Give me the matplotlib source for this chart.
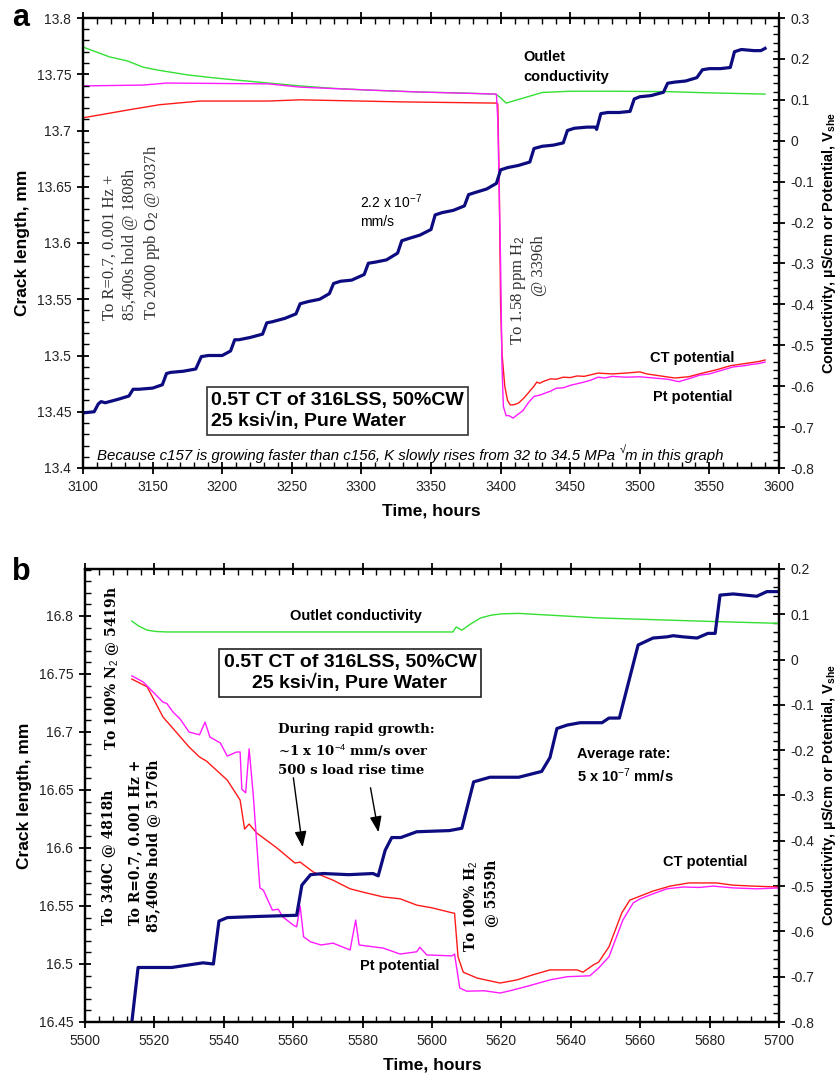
import matplotlib
matplotlib.use("Agg")
import matplotlib.pyplot as plt
from matplotlib.ticker import MultipleLocator

plt.rcParams['font.family'] = ['Liberation Sans', 'DejaVu Sans']
plt.rcParams['mathtext.fontset'] = 'custom'
plt.rcParams['mathtext.rm'] = 'Liberation Sans'
plt.rcParams['mathtext.it'] = 'Liberation Sans:italic'
plt.rcParams['mathtext.bf'] = 'Liberation Sans:bold'

# ---- panel a: 3100-3600 h ----
crack_a_t = [3100, 3108, 3111, 3113, 3116, 3125, 3133, 3136, 3140, 3150, 3157, 3160,
             3163, 3172, 3181, 3185, 3190, 3200, 3206, 3209, 3212, 3220, 3229, 3232,
             3236, 3245, 3253, 3256, 3262, 3270, 3277, 3280, 3285, 3293, 3302, 3305,
             3310, 3318, 3326, 3329, 3334, 3342, 3350, 3353, 3358, 3366, 3374, 3377,
             3382, 3390, 3397, 3400, 3405, 3413, 3421, 3424, 3430, 3438, 3445, 3448,
             3453, 3462, 3468, 3469, 3472, 3477, 3485, 3493, 3496, 3500, 3508, 3517,
             3520, 3525, 3533, 3541, 3545, 3550, 3558, 3565, 3568, 3573, 3582, 3587, 3590]
crack_a = [13.449, 13.450, 13.457, 13.459, 13.458, 13.461, 13.464, 13.470, 13.470, 13.471,
           13.474, 13.484, 13.485, 13.486, 13.488, 13.499, 13.500, 13.500, 13.504, 13.514,
           13.514, 13.516, 13.519, 13.529, 13.530, 13.533, 13.537, 13.546, 13.548, 13.550,
           13.555, 13.564, 13.566, 13.567, 13.572, 13.582, 13.583, 13.585, 13.591, 13.602,
           13.604, 13.607, 13.612, 13.625, 13.627, 13.629, 13.633, 13.643, 13.645, 13.648,
           13.653, 13.665, 13.667, 13.669, 13.672, 13.684, 13.686, 13.687, 13.689, 13.700,
           13.702, 13.703, 13.703, 13.701, 13.715, 13.716, 13.716, 13.717, 13.728, 13.730,
           13.731, 13.734, 13.742, 13.743, 13.744, 13.747, 13.754, 13.755, 13.755, 13.756,
           13.770, 13.772, 13.771, 13.771, 13.773]

cond_a_t = [3100, 3119, 3132, 3143, 3153, 3175, 3193, 3208, 3230, 3256, 3280, 3304, 3342,
            3370, 3396, 3399, 3404, 3412, 3420, 3430, 3450, 3480, 3520, 3550, 3590]
cond_a = [0.229, 0.205, 0.195, 0.180, 0.173, 0.161, 0.154, 0.149, 0.142, 0.134, 0.128,
          0.124, 0.119, 0.117, 0.114, 0.108, 0.092, 0.100, 0.108, 0.118, 0.121, 0.121,
          0.120, 0.117, 0.114]

pt_a_t = [3100, 3143, 3160, 3233, 3256, 3304, 3342, 3397, 3398, 3400, 3401, 3402, 3404,
          3406, 3409, 3412, 3416, 3420, 3424, 3428, 3432, 3436, 3440, 3445, 3450, 3455,
          3460, 3465, 3470, 3475, 3480, 3490, 3500, 3510, 3520, 3528, 3535, 3543, 3550,
          3560, 3567, 3575, 3580, 3585, 3590]
pt_a = [0.134, 0.136, 0.141, 0.139, 0.131, 0.124, 0.119, 0.114, 0.050, -0.300, -0.550,
        -0.650, -0.672, -0.672, -0.678, -0.670, -0.660, -0.640, -0.625, -0.622, -0.617,
        -0.612, -0.605, -0.604, -0.598, -0.594, -0.590, -0.585, -0.578, -0.580, -0.576,
        -0.578, -0.577, -0.580, -0.583, -0.589, -0.582, -0.573, -0.570, -0.560, -0.553,
        -0.550, -0.547, -0.545, -0.541]

ct_a_t = [3100, 3132, 3155, 3184, 3233, 3256, 3328, 3397, 3398, 3399, 3400, 3401, 3403,
          3405, 3407, 3410, 3413, 3417, 3421, 3424, 3426, 3428, 3431, 3436, 3440, 3445,
          3450, 3455, 3460, 3465, 3470, 3480, 3490, 3500, 3505, 3515, 3525, 3535, 3545,
          3555, 3565, 3575, 3585, 3590]
ct_a = [0.056, 0.075, 0.088, 0.097, 0.097, 0.100, 0.095, 0.092, 0.090, -0.100, -0.400,
        -0.520, -0.600, -0.635, -0.646, -0.645, -0.641, -0.628, -0.612, -0.600, -0.590,
        -0.593, -0.588, -0.582, -0.583, -0.578, -0.579, -0.575, -0.576, -0.572, -0.568,
        -0.570, -0.568, -0.565, -0.570, -0.575, -0.580, -0.577, -0.568, -0.560, -0.550,
        -0.545, -0.540, -0.536]

# ---- panel b: 5500-5700 h ----
crack_b_t = [5513.5, 5515.3, 5525, 5534, 5537, 5538.6, 5541, 5550, 5561, 5562.5, 5565,
             5568.7, 5576, 5583, 5584.5, 5586.5, 5588.4, 5591, 5595.6, 5605, 5608.6, 5612,
             5616.7, 5625, 5631.6, 5634, 5636, 5639, 5642.7, 5649, 5651, 5654, 5657,
             5659.4, 5663.7, 5667.7, 5669.5, 5672.4, 5676.4, 5679.5, 5681.6, 5683, 5686.8,
             5693.6, 5696.5, 5700]
crack_b = [16.45, 16.497, 16.497, 16.501, 16.500, 16.537, 16.540, 16.541, 16.542, 16.568,
           16.577, 16.578, 16.577, 16.578, 16.576, 16.598, 16.609, 16.609, 16.614, 16.615,
           16.617, 16.657, 16.661, 16.661, 16.666, 16.678, 16.703, 16.706, 16.708, 16.708,
           16.712, 16.712, 16.747, 16.775, 16.781, 16.782, 16.783, 16.782, 16.781, 16.785,
           16.785, 16.818, 16.819, 16.817, 16.821, 16.821]

cond_b_t = [5513.5, 5515.5, 5517.9, 5520.5, 5523.6, 5560, 5606, 5607, 5608.6, 5611, 5614,
            5617, 5620, 5625, 5648, 5677, 5700]
cond_b = [0.085, 0.074, 0.065, 0.062, 0.061, 0.061, 0.061, 0.072, 0.065, 0.078, 0.092,
          0.098, 0.101, 0.102, 0.092, 0.085, 0.080]

pt_b_t = [5513.5, 5516.7, 5522.5, 5523.6, 5525.4, 5527.4, 5530, 5533, 5534.6, 5536, 5539,
          5541, 5543.7, 5544.7, 5545.2, 5546.3, 5547.3, 5548.5, 5550.4, 5551.4, 5554,
          5555.7, 5557, 5560, 5561, 5562, 5563, 5565, 5568, 5571.5, 5576.4, 5578, 5579,
          5586, 5590.8, 5595.6, 5596.5, 5598.5, 5605.8, 5606.5, 5608, 5610, 5615, 5619.6,
          5622.5, 5628, 5634, 5639, 5645.5, 5648, 5651, 5655, 5658, 5660, 5663.7, 5667.7,
          5672.4, 5677, 5681, 5686.8, 5693.6, 5700]
pt_b = [-0.036, -0.049, -0.094, -0.097, -0.116, -0.131, -0.160, -0.166, -0.138, -0.171,
        -0.184, -0.213, -0.204, -0.204, -0.286, -0.294, -0.197, -0.300, -0.504, -0.509,
        -0.553, -0.551, -0.568, -0.586, -0.590, -0.544, -0.612, -0.623, -0.630, -0.626,
        -0.641, -0.575, -0.630, -0.637, -0.650, -0.645, -0.635, -0.652, -0.654, -0.650,
        -0.725, -0.732, -0.731, -0.736, -0.731, -0.720, -0.707, -0.700, -0.698, -0.681,
        -0.656, -0.575, -0.537, -0.528, -0.517, -0.506, -0.502, -0.503, -0.500, -0.504,
        -0.506, -0.504]

ct_b_t = [5513.5, 5517.9, 5522.5, 5526.5, 5530, 5533, 5535, 5541, 5544.7, 5546, 5547.3,
          5549.5, 5555, 5560.5, 5562, 5565.8, 5571.5, 5576.4, 5581, 5586, 5590.8, 5595.6,
          5600, 5605.8, 5606.5, 5607.5, 5609, 5613, 5619.6, 5624.5, 5629, 5634, 5641.8,
          5643.5, 5646.5, 5648, 5651, 5654.7, 5657, 5660, 5663.7, 5668.6, 5674, 5682,
          5686.8, 5692.5, 5700]
ct_b = [-0.043, -0.060, -0.127, -0.162, -0.193, -0.215, -0.224, -0.266, -0.310, -0.374,
        -0.363, -0.383, -0.414, -0.449, -0.447, -0.469, -0.487, -0.506, -0.515, -0.524,
        -0.528, -0.542, -0.548, -0.559, -0.560, -0.656, -0.690, -0.703, -0.714, -0.707,
        -0.696, -0.685, -0.685, -0.690, -0.674, -0.668, -0.634, -0.559, -0.531, -0.522,
        -0.511, -0.500, -0.493, -0.493, -0.498, -0.500, -0.502]

NAVY = '#0c0c80'
RED = '#ff1a1a'
MAGENTA = '#ff1aff'
GREEN = '#33e033'
TXT = '#222222'
W, H = 839, 1076

fig = plt.figure(figsize=(W / 100, H / 100), dpi=100)


def fpos(x, y):
    # pixel position -> figure fraction
    return x / W, 1 - y / H


def txt(x, y, s, **kw):
    return fig.text(*fpos(x, y), s, **kw)


def setup(ax, ax2, xlim, ylim, y2lim, xstep, ystep, y2step):
    ax.set_xlim(*xlim)
    ax.set_ylim(*ylim)
    ax2.set_ylim(*y2lim)
    ax.xaxis.set_major_locator(MultipleLocator(xstep[0]))
    ax.xaxis.set_minor_locator(MultipleLocator(xstep[1]))
    ax.yaxis.set_major_locator(MultipleLocator(ystep[0]))
    ax.yaxis.set_minor_locator(MultipleLocator(ystep[1]))
    ax2.yaxis.set_major_locator(MultipleLocator(y2step[0]))
    ax2.yaxis.set_minor_locator(MultipleLocator(y2step[1]))
    for a in (ax, ax2):
        a.tick_params(which='major', direction='inout', length=9, width=1.3,
                      labelsize=10, labelcolor=TXT, pad=4)
        a.tick_params(which='minor', direction='in', length=4.5, width=1.0)
        for sp in a.spines.values():
            sp.set_linewidth(1.6)
    ax.tick_params(which='both', top=True, right=False)
    # crack length drawn above the potentials
    ax.set_zorder(ax2.get_zorder() + 1)
    ax.patch.set_visible(False)
    ax.yaxis.set_major_formatter(plt.FuncFormatter(lambda v, p: f'{v:g}'))
    ax2.yaxis.set_major_formatter(plt.FuncFormatter(lambda v, p: f'{v:g}'))
    ax.set_xlabel('Time, hours', fontsize=12.5, fontweight='bold', labelpad=7)
    ax.set_ylabel('Crack length, mm', fontsize=12.5, fontweight='bold', labelpad=5)
    ax2.set_ylabel(r'Conductivity, µS/cm or Potential, V$_\mathbf{she}$',
                   fontsize=10.5, fontweight='bold', labelpad=4)


# ---------------- panel a ----------------
ax = fig.add_axes([83 / W, 1 - 468 / H, 696 / W, 450 / H])
ax2 = ax.twinx()
setup(ax, ax2, (3100, 3600), (13.4, 13.8), (-0.8, 0.3), (50, 10), (0.05, 0.01), (0.1, 0.02))
ax2.plot(cond_a_t, cond_a, color=GREEN, lw=1.0)
ax2.plot(ct_a_t, ct_a, color=RED, lw=1.0)
ax2.plot(pt_a_t, pt_a, color=MAGENTA, lw=1.0)
ax.plot(crack_a_t, crack_a, color=NAVY, lw=2.3, solid_joinstyle='round')

txt(12, 18, 'a', fontsize=22, fontweight='bold', va='center')
txt(523, 67, 'Outlet\nconductivity', fontsize=10.5, fontweight='bold', va='center',
    linespacing=1.5)
txt(360, 211, '2.2 x 10$^{-7}$\nmm/s', fontsize=10, va='center', linespacing=1.4)
txt(132, 320, 'To R=0.7, 0.001 Hz +\n85,400s hold @ 1808h\nTo 2000 ppb O$_2$ @ 3037h',
    family='Liberation Serif', fontsize=12, color='#333333', rotation=90,
    ha='center', va='bottom', ma='left', linespacing=1.3)
txt(528, 235, 'To 1.58 ppm H$_2$\n@ 3396h', family='Liberation Serif', fontsize=12,
    color='#333333', rotation=90, ha='center', va='top', ma='right', linespacing=1.25)
txt(211, 411, '0.5T CT of 316LSS, 50%CW\n25 ksi\u221ain, Pure Water', fontsize=14,
    fontweight='bold', va='center', ma='left', linespacing=1.25,
    bbox=dict(boxstyle='square,pad=0.22', fc='white', ec='#333333', lw=1.2))

# note with a small raised root sign in the unit
note = txt(97, 460, 'Because c157 is growing faster than c156, K slowly rises from 32 to 34.5 MPa ',
           fontsize=10.8, style='italic', va='baseline')
root = fig.add_artist(matplotlib.text.Annotation(
    '\u221a', xy=(1, 0.55), xycoords=note, ha='left', va='bottom', fontsize=8))
fig.add_artist(matplotlib.text.Annotation(
    'm in this graph', xy=(1, 0), xycoords=(root, note), ha='left', va='bottom',
    fontsize=10.8, style='italic'))
txt(650, 358, 'CT potential', fontsize=10.5, fontweight='bold', va='center')
txt(653, 397, 'Pt potential', fontsize=10.5, fontweight='bold', va='center')

# ---------------- panel b ----------------
bx = fig.add_axes([85 / W, 1 - 1022 / H, 694 / W, 453 / H])
bx2 = bx.twinx()
setup(bx, bx2, (5500, 5700), (16.45, 16.8405), (-0.8, 0.2), (20, 4), (0.05, 0.01), (0.1, 0.02))
bx2.plot(cond_b_t, cond_b, color=GREEN, lw=1.0)
bx2.plot(ct_b_t, ct_b, color=RED, lw=1.0)
bx2.plot(pt_b_t, pt_b, color=MAGENTA, lw=1.0)
bx.plot(crack_b_t, crack_b, color=NAVY, lw=2.3, solid_joinstyle='round')

txt(12, 572, 'b', fontsize=22, fontweight='bold', va='center')
txt(290, 616, 'Outlet conductivity', fontsize=10.5, fontweight='bold', va='center')
txt(350, 673, '0.5T CT of 316LSS, 50%CW\n25 ksi\u221ain, Pure Water', fontsize=14,
    fontweight='bold', ha='center', va='center', ma='center', linespacing=1.25,
    bbox=dict(boxstyle='square,pad=0.22', fc='white', ec='#222222', lw=1.2))

serif_b = dict(family='DejaVu Serif', fontweight='bold', fontsize=10, rotation=90)
txt(112, 750, 'To 100% N$_2$ @ 5419h', ha='center', va='bottom', **serif_b)
txt(108, 925, 'To 340C @ 4818h', ha='center', va='bottom', **serif_b)
txt(144, 760, 'To R=0.7, 0.001 Hz +\n85,400s hold @ 5176h', ha='center', va='top',
    ma='right', linespacing=1.35, **serif_b)
txt(480, 860, 'To 100% H$_2$\n@ 5559h', ha='center', va='top', ma='right',
    linespacing=1.35, **serif_b)
txt(278, 750, 'During rapid growth:\n~1 x 10$^{-4}$ mm/s over\n500 s load rise time',
    family='DejaVu Serif', fontweight='bold', fontsize=9.5, va='center', linespacing=1.55)
txt(577, 766, 'Average rate:\n5 x 10$^{-7}$ mm/s', fontsize=10.5, fontweight='bold',
    va='center', linespacing=1.35)
txt(663, 862, 'CT potential', fontsize=10.5, fontweight='bold', va='center')
txt(360, 966, 'Pt potential', fontsize=10.5, fontweight='bold', va='center')

for (x0, y0), (x1, y1) in [((293, 775), (303, 850)), ((370, 785), (379, 835))]:
    fig.add_artist(matplotlib.patches.FancyArrowPatch(
        fpos(x0, y0), fpos(x1, y1), transform=fig.transFigure,
        arrowstyle='-|>,head_length=0.8,head_width=0.3', mutation_scale=12,
        color='black', lw=1.0))

fig.savefig('out.png', dpi=100)
